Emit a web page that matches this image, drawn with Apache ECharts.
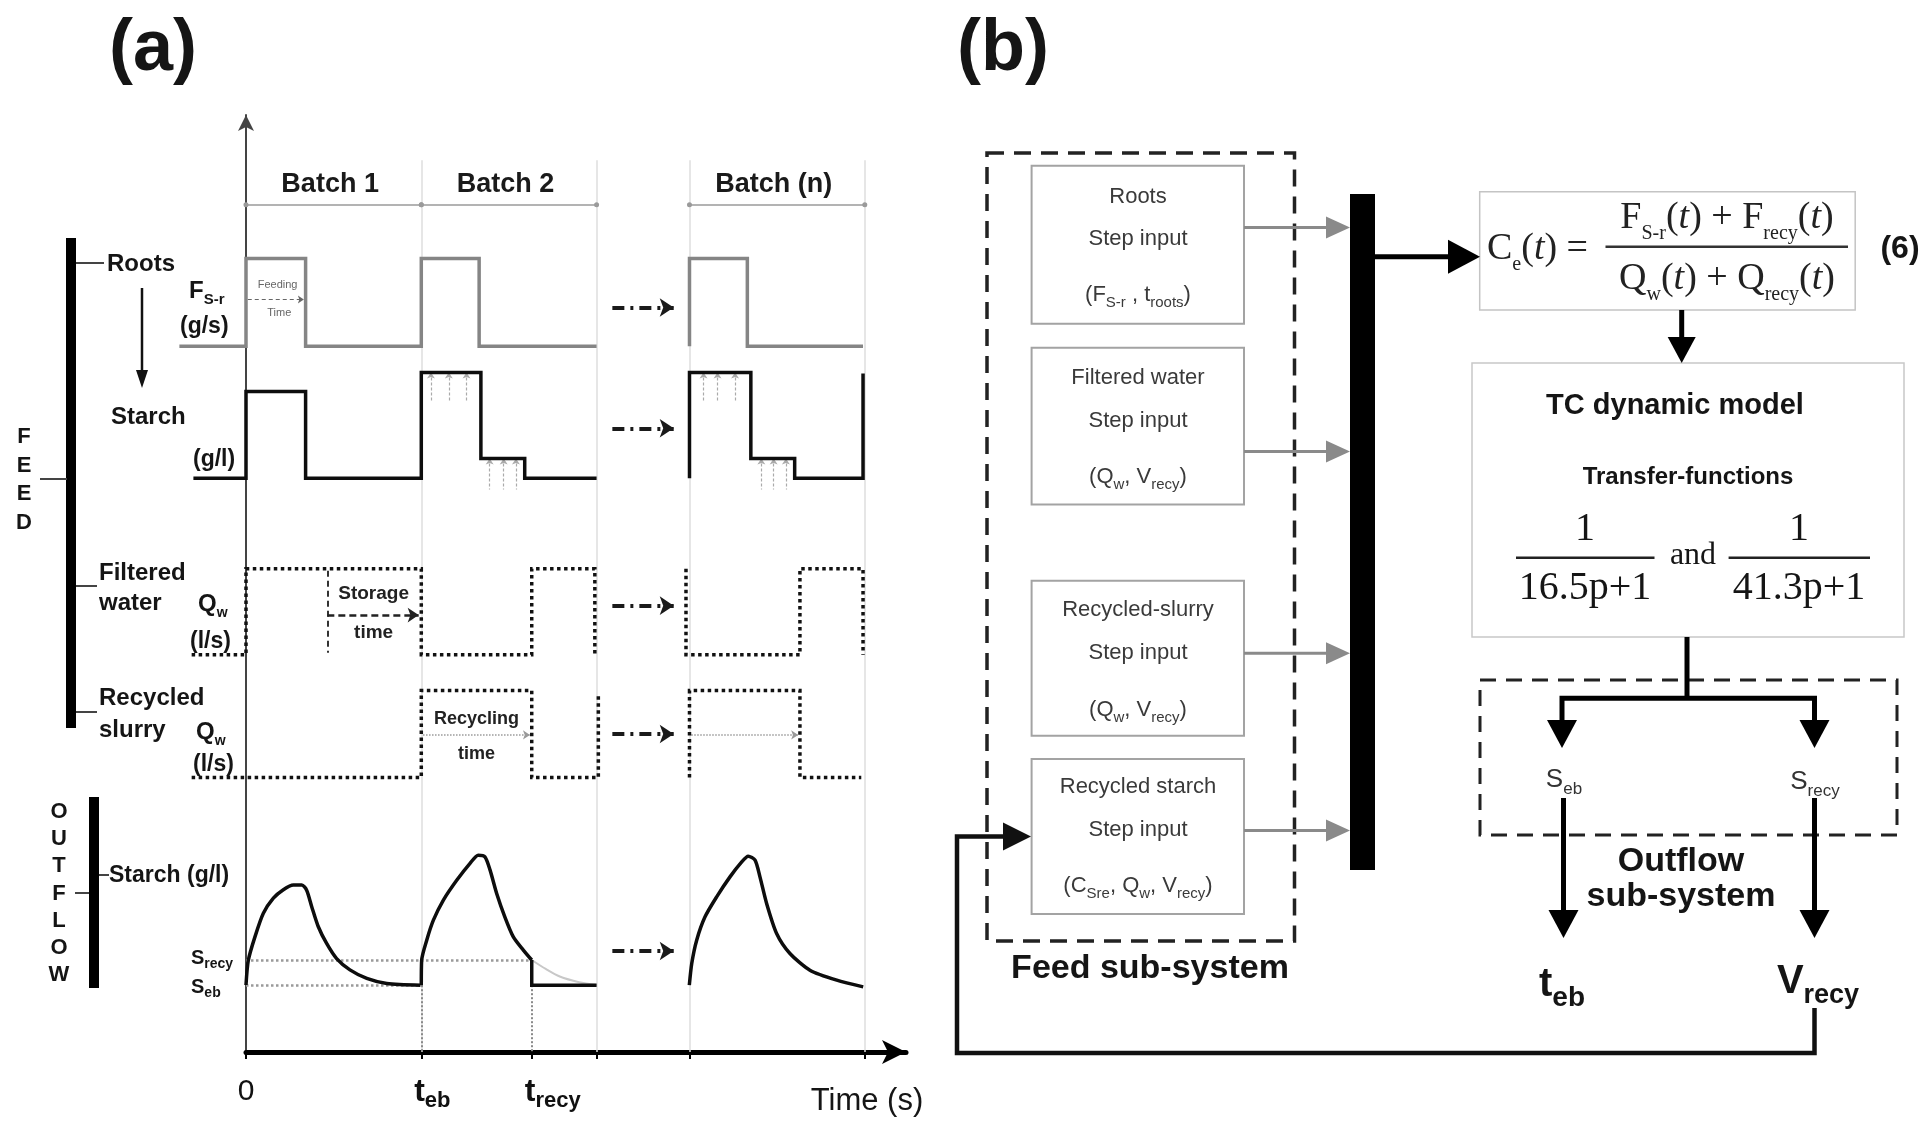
<!DOCTYPE html>
<html><head><meta charset="utf-8">
<script src="https://cdn.jsdelivr.net/npm/echarts@6/dist/echarts.min.js"></script>
<style>html,body{margin:0;padding:0;background:#fff}#c{width:1929px;height:1125px}</style>
</head><body><div id="c"></div>
<script>
// ---------------- data ----------------
const batchNames = ['Batch 1', 'Batch 2', 'Batch (n)'];
const batchStart = [0, 10, 25.3];
const batchEnd = [10, 20, 35.3];
const timeTickValues = [0, 10, 16.3, 20, 25.3, 35.3];
const timeLabelValues = [0, 10, 16.3];
const timeLabels = ['0', 't_eb', 't_recy'];

const rootsBatch12 = [[-3.8,74.8],[0,74.8],[0,84.1],[3.4,84.1],[3.4,74.8],[10,74.8],[10,84.1],[13.3,84.1],[13.3,74.8],[20,74.8]];
const rootsBatchN = [[25.3,74.8],[25.3,84.1],[28.6,84.1],[28.6,74.8],[35.2,74.8]];
const starchFeed12 = [[-3,60.8],[0,60.8],[0,70.0],[3.4,70.0],[3.4,60.8],[10,60.8],[10,72.0],[13.4,72.0],[13.4,62.9],[15.9,62.9],[15.9,60.8],[20,60.8]];
const starchFeedN = [[25.3,60.8],[25.3,72.0],[28.8,72.0],[28.8,62.9],[31.3,62.9],[31.3,60.8],[35.2,60.8],[35.2,71.9]];
const waterFeed12 = [[-3.1,42.1],[0,42.1],[0,51.2],[10,51.2],[10,42.1],[16.3,42.1],[16.3,51.2],[19.9,51.2],[19.9,42.1]];
const waterFeedN = [[25.1,51.2],[25.1,42.1],[31.6,42.1],[31.6,51.2],[35.2,51.2],[35.2,42.1]];
const slurryFeed12 = [[-3.1,29.1],[10,29.1],[10,38.3],[16.3,38.3],[16.3,29.1],[20.1,29.1],[20.1,38.0]];
const slurryFeedN = [[25.3,29.1],[25.3,38.3],[31.6,38.3],[31.6,29.1],[35.1,29.1]];
const outflowB1 = [[0,7.1],[0.13,9.7],[0.51,12.2],[0.99,14.7],[1.56,16.3],[2.13,17.2],[2.7,17.7],[3.18,17.7],[3.46,17.15],[3.75,15.4],[4.12,13.3],[4.6,11.5],[5.17,9.9],[5.93,8.7],[6.89,7.8],[8.03,7.26],[9.95,7.08]];
const outflowB2 = [[10,7.08],[10.02,9.7],[10.31,11.85],[10.69,13.97],[11.26,16.1],[12.02,18.2],[12.78,20.0],[13.25,20.86],[13.63,20.68],[13.92,19.3],[14.3,16.8],[14.77,14.3],[15.25,12.2],[15.82,10.8],[16.3,9.75]];
const outflowB2Cut = [[16.3,9.75],[16.3,7.08],[20,7.08]];
const outflowB2Natural = [[16.3,9.75],[17.1,8.8],[17.9,8.0],[19,7.4],[20,7.1]];
const outflowBN = [[25.29,7.08],[25.43,9.4],[25.71,11.85],[26.18,14.3],[26.85,16.44],[27.61,18.56],[28.28,20.15],[28.65,20.75],[29.04,20.33],[29.32,18.56],[29.7,15.74],[30.27,12.56],[31.03,10.44],[32.17,8.67],[33.7,7.61],[35.21,6.9]];
const levelSrecy = 9.75;
const levelSeb = 7.08;
const starchTopMarks = [10.55, 11.57, 12.58, 26.1, 26.9, 27.9];
const starchStepMarks = [13.9, 14.7, 15.4, 29.4, 30.1, 30.8];

// ---------------- helpers ----------------
const SANS = '"Liberation Sans", Arial, sans-serif';
const SERIF = '"Liberation Serif", "Times New Roman", serif';
const G = [];
function rt(s){
  let out='', re=/(_|\*)\{([^}]*)\}/g, last=0, m;
  while((m=re.exec(s))){
    if(m.index>last) out+='{m|'+s.slice(last,m.index)+'}';
    out+='{'+(m[1]==='_'?'s':'i')+'|'+m[2]+'}';
    last=re.lastIndex;
  }
  if(last<s.length) out+='{m|'+s.slice(last)+'}';
  return out;
}
function richFor(f, fs, w, fam, c){
  const lh = Math.round(f*1.35);
  return {
    m:{fontSize:f,fontFamily:fam,fontWeight:w,fill:c,lineHeight:lh},
    i:{fontSize:f,fontFamily:fam,fontWeight:w,fontStyle:'italic',fill:c,lineHeight:lh},
    s:{fontSize:fs,fontFamily:fam,fontWeight:w,fill:c,verticalAlign:'bottom',lineHeight:fs}
  };
}
function txt(x,y,s,o){
  o = Object.assign({f:24,fs:null,w:'bold',fam:SANS,color:'#151515',align:'center'}, o||{});
  const fs = o.fs || Math.round(o.f*0.62);
  G.push({type:'text',x:x,y:y,z:20,silent:true,style:{text:rt(s),rich:richFor(o.f,fs,o.w,o.fam,o.color),align:o.align,verticalAlign:'middle',fill:o.color,font:o.w+' '+o.f+'px '+o.fam}});
}
function ln(x1,y1,x2,y2,w,c,dash){G.push({type:'line',z:15,silent:true,shape:{x1,y1,x2,y2},style:{stroke:c||'#111',lineWidth:w||2,lineDash:dash||null}});}
function pl(points,w,c,dash){G.push({type:'polyline',z:15,silent:true,shape:{points},style:{stroke:c||'#111',lineWidth:w||2,lineDash:dash||null,fill:null,lineJoin:'miter'}});}
function rc(x,y,w,h,lw,c,dash,fill){G.push({type:'rect',z:12,silent:true,shape:{x,y,width:w,height:h},style:{stroke:c,lineWidth:lw,lineDash:dash||null,fill:fill||'transparent'}});}
function head(tx,ty,dir,len,half,c){
  let p;
  if(dir==='r') p=[[tx,ty],[tx-len,ty-half],[tx-len,ty+half]];
  else if(dir==='l') p=[[tx,ty],[tx+len,ty-half],[tx+len,ty+half]];
  else if(dir==='d') p=[[tx,ty],[tx-half,ty-len],[tx+half,ty-len]];
  else p=[[tx,ty],[tx-half,ty+len],[tx+half,ty+len]];
  G.push({type:'polygon',z:16,silent:true,shape:{points:p},style:{fill:c||'#111'}});
}

// ---------------- panel (a) left labels ----------------
txt(153,50,'(a)',{f:72});
txt(1003,50,'(b)',{f:72});
rc(66,238,10,490,0,'#000',null,'#000');
ln(76,263,104,263,2,'#444');
txt(107,264,'Roots',{align:'left'});
ln(142,288,142,372,2.5,'#111'); head(142,388,'d',18,6,'#111');
txt(111,417,'Starch',{align:'left'});
txt(189,291,'F_{S-r}',{align:'left',fs:15});
txt(180,327,'(g/s)',{align:'left',f:23});
txt(193,460,'(g/l)',{align:'left',f:23});
ln(40,479,67,479,2,'#444');
['F','E','E','D'].forEach((ch,i)=>txt(24,437+i*28.7,ch,{f:22}));
ln(76,586,97,586,2,'#444');
txt(99,573,'Filtered',{align:'left'});
txt(99,603,'water',{align:'left'});
txt(198,604,'Q_{w}',{align:'left',fs:14});
txt(190,642,'(l/s)',{align:'left',f:23});
ln(76,712,97,712,2,'#444');
txt(99,698,'Recycled',{align:'left'});
txt(99,730,'slurry',{align:'left'});
txt(196,732,'Q_{w}',{align:'left',fs:14});
txt(193,765,'(l/s)',{align:'left',f:23});
rc(89,797,10,191,0,'#000',null,'#000');
['O','U','T','F','L','O','W'].forEach((ch,i)=>txt(59,812+i*27.2,ch,{f:22}));
ln(75,893,89,893,2,'#444');
ln(99,875,109,875,2,'#444');
txt(109,876,'Starch (g/l)',{align:'left',f:23});
txt(191,958,'S_{recy}',{align:'left',f:20,fs:14});
txt(191,987,'S_{eb}',{align:'left',f:20,fs:14});
txt(867,1101,'Time (s)',{f:31,w:'normal'});

// ---------------- panel (b) ----------------
rc(987,153,307.5,788,3.5,'#222',[17,10]);
const boxTops=[165.7,347.7,580.7,759], boxH=[158,156.7,155,155];
boxTops.forEach((t,i)=>rc(1031.6,t,212.4,boxH[i],2,'#a3a3a3'));
const boxText=[['Roots','Step input','(F_{S-r} , t_{roots})'],['Filtered water','Step input','(Q_{w}, V_{recy})'],['Recycled-slurry','Step input','(Q_{w}, V_{recy})'],['Recycled starch','Step input','(C_{Sre}, Q_{w}, V_{recy})']];
const boxTextY=[[197,239,295],[378,421,477],[610,653,710],[787,830,886]];
boxText.forEach((ls,i)=>ls.forEach((s,j)=>txt(1138,boxTextY[i][j],s,{f:22,fs:15,w:'normal',color:'#3a3a3a'})));
[227.6,451.5,653.2,830.4].forEach(y=>{ln(1244,y,1330,y,3,'#8a8a8a');head(1350,y,'r',24,11,'#8a8a8a');});
rc(1350,194,25,676,0,'#000',null,'#000');
ln(1375,256.7,1452,256.7,5,'#000'); head(1480,256.7,'r',32,17,'#000');
rc(1479.7,191.7,375.5,118.3,1.5,'#c4c4c4');
txt(1487,249,'C_{e}(*{t}) =',{align:'left',f:38,fs:20,w:'normal',fam:SERIF,color:'#222'});
ln(1605.5,246.7,1848,246.7,2.5,'#333');
txt(1727,218,'F_{S-r}(*{t}) + F_{recy}(*{t})',{f:38,fs:20,w:'normal',fam:SERIF,color:'#222'});
txt(1727,279,'Q_{w}(*{t}) + Q_{recy}(*{t})',{f:38,fs:20,w:'normal',fam:SERIF,color:'#222'});
txt(1900,249,'(6)',{f:32});
ln(1681.7,310,1681.7,340,5,'#000'); head(1681.7,363,'d',26,14,'#000');
rc(1472,363,432,274,1.5,'#c8c8c8');
txt(1675,406,'TC dynamic model',{f:29});
txt(1688,477,'Transfer-functions',{f:24});
txt(1585,529,'1',{f:40,w:'normal',fam:SERIF});
ln(1516,557.7,1654.5,557.7,2.5,'#222');
txt(1585,588,'16.5p+1',{f:40,w:'normal',fam:SERIF});
txt(1693,556,'and',{f:32,w:'normal',fam:SERIF});
txt(1799,529,'1',{f:40,w:'normal',fam:SERIF});
ln(1728.6,557.7,1870,557.7,2.5,'#222');
txt(1799,588,'41.3p+1',{f:40,w:'normal',fam:SERIF});
ln(1687,637,1687,698,5,'#000');
pl([[1562,725],[1562,698.3],[1814.5,698.3],[1814.5,725]],5,'#000');
head(1562,748,'d',28,15,'#000'); head(1814.5,748,'d',28,15,'#000');
rc(1480,680,417,155,3,'#222',[16,10]);
txt(1564,780,'S_{eb}',{f:26,fs:17,w:'normal',color:'#333'});
txt(1815,782,'S_{recy}',{f:26,fs:17,w:'normal',color:'#333'});
ln(1563.5,798,1563.5,915,5,'#000'); head(1563.5,938,'d',28,15,'#000');
ln(1814.5,798,1814.5,915,5,'#000'); head(1814.5,938,'d',28,15,'#000');
txt(1681,862,'Outflow',{f:34});
txt(1681,897,'sub-system',{f:34});
txt(1562,985,'t_{eb}',{f:40,fs:28});
txt(1818,982,'V_{recy}',{f:40,fs:27});
txt(1150,969,'Feed sub-system',{f:34});
pl([[1814.5,1008],[1814.5,1053],[957,1053],[957,836.5],[1005,836.5]],4.5,'#111');
head(1031,836.5,'r',28,14,'#111');

// ---------------- chart series (panel a) ----------------
function wave(data,color,type,width,smooth,z){
  return {type:'line',xAxisIndex:1,yAxisIndex:1,data:data,symbol:'none',showSymbol:false,smooth:smooth||false,
    lineStyle:{color:color,width:width||3.5,type:type||'solid',cap:'butt',join:'miter'},silent:true,animation:false,z:z||5};
}
function segs(list,symbol,size,style,z){
  return {type:'lines',coordinateSystem:'cartesian2d',xAxisIndex:1,yAxisIndex:1,polyline:false,
    symbol:symbol,symbolSize:size,lineStyle:Object.assign({opacity:1,curveness:0},style),
    data:list.map(c=>({coords:c})),silent:true,animation:false,z:z||3};
}
const series = [
  segs(batchEnd.map(x=>[[x,94.5],[x,0]]).concat([[[batchStart[2],94.5],[batchStart[2],0]]]),['none','none'],1,{color:'#dedede',width:1.5},1),
  segs(batchNames.map((n,i)=>[[batchStart[i],89.8],[batchEnd[i],89.8]]),['circle','circle'],5,{color:'#9a9a9a',width:1.5},2),
  segs([[[0,levelSrecy],[16.3,levelSrecy]],[[0,levelSeb],[9.8,levelSeb]]],['none','none'],1,{color:'#9a9a9a',width:2.5,type:'dotted'},2),
  segs([[[10,levelSeb],[10,0]],[[16.3,levelSeb],[16.3,0]]],['none','none'],1,{color:'#8a8a8a',width:2,type:'dotted'},2),
  segs([78.9,66.1,47.3,33.7,10.7].map(y=>[[20.9,y],[24.4,y]]),['none','arrow'],14,{color:'#1a1a1a',width:4,type:[12,6,3,6]},4),
  segs([[[0.1,79.75],[3.3,79.75]]],['none','arrow'],6,{color:'#666',width:1.2,type:[4,3]},4),
  segs([[[4.64,51.0],[4.64,42.3]]],['none','none'],1,{color:'#333',width:2,type:[6,4]},4),
  segs([[[4.64,46.3],[9.85,46.3]]],['none','arrow'],11,{color:'#222',width:2.5,type:[7,4]},4),
  segs([[[10.1,33.6],[16.2,33.6]],[[25.4,33.6],[31.5,33.6]]],['none','arrow'],7,{color:'#999',width:1.5,type:'dotted'},4),
  segs(starchTopMarks.map(x=>[[x,72.0],[x,69.0]]).concat(starchStepMarks.map(x=>[[x,62.9],[x,59.6]])),['arrow','none'],6,{color:'#aaa',width:1.2,type:[3,2]},4),
  wave(rootsBatch12,'#858585','solid',3.5),
  wave(rootsBatchN,'#858585','solid',3.5),
  wave(starchFeed12,'#0d0d0d','solid',3.5),
  wave(starchFeedN,'#0d0d0d','solid',3.5),
  wave(waterFeed12,'#111','dotted',3.5),
  wave(waterFeedN,'#111','dotted',3.5),
  wave(slurryFeed12,'#111','dotted',3.5),
  wave(slurryFeedN,'#111','dotted',3.5),
  wave(outflowB2Natural,'#c8c8c8','solid',2,0.3,4),
  wave(outflowB1,'#0d0d0d','solid',3.5,0.25),
  wave(outflowB2,'#0d0d0d','solid',3.5,0.25),
  wave(outflowB2Cut,'#0d0d0d','solid',3.5),
  wave(outflowBN,'#0d0d0d','solid',3.5,0.25)
];

const option = {
  backgroundColor:'#ffffff',
  animation:false,
  grid:[
    {left:246,top:115,width:660,height:937},
    {left:175.88,top:115,width:730.1,height:937}
  ],
  xAxis:[
    {gridIndex:0,type:'value',min:0,max:37.65,
      axisLine:{show:true,symbol:['none','arrow'],symbolSize:[18,24],lineStyle:{color:'#000',width:5}},
      axisTick:{show:true,customValues:timeTickValues,length:7,lineStyle:{color:'#000',width:2}},
      splitLine:{show:false},
      axisLabel:{show:true,customValues:timeLabelValues,align:'center',margin:20,
        formatter:function(v){
          const i=timeLabelValues.findIndex(t=>Math.abs(t-v)<1e-6);
          const s=i>=0?timeLabels[i]:'';
          if(s.indexOf('_')<0) return '{n|'+s+'}';
          const p=s.split('_'); return '{'+(i===1?'t1':'t2')+'|'+p[0]+'}{s|'+p[1]+'}';
        },
        rich:{
          n:{fontSize:30,fontFamily:SANS,color:'#111',lineHeight:40},
          t1:{fontSize:32,fontWeight:'bold',fontFamily:SANS,color:'#111',lineHeight:40,padding:[0,0,0,22]},
          t2:{fontSize:32,fontWeight:'bold',fontFamily:SANS,color:'#111',lineHeight:40,padding:[0,0,0,42]},
          s:{fontSize:22,fontWeight:'bold',fontFamily:SANS,color:'#111',verticalAlign:'bottom',lineHeight:24}
        }}},
    {gridIndex:1,type:'value',min:-4,max:37.65,show:false}
  ],
  yAxis:[
    {gridIndex:0,type:'value',min:0,max:99.3,
      axisLine:{show:true,symbol:['none','arrow'],symbolSize:[12,16],lineStyle:{color:'#444',width:2}},
      axisTick:{show:false},axisLabel:{show:false},splitLine:{show:false}},
    {gridIndex:1,type:'value',min:0,max:99.3,show:false}
  ],
  series:series
};
const chart = echarts.init(document.getElementById('c'), null, {renderer:'canvas'});
chart.setOption(option);

// in-plot texts, placed through the data grid's own scales
const inPlotTexts = batchNames.map((n,i)=>({v:[(batchStart[i]+batchEnd[i])/2-0.2,91.9],s:n,o:{f:27,color:'#1a1a1a'}})).concat([
  {v:[1.8,81.3],s:'Feeding',o:{f:11,w:'normal',color:'#666'}},
  {v:[1.9,78.3],s:'Time',o:{f:11,w:'normal',color:'#666'}},
  {v:[7.28,48.6],s:'Storage',o:{f:19,color:'#222'}},
  {v:[7.28,44.4],s:'time',o:{f:19,color:'#222'}},
  {v:[13.15,35.3],s:'Recycling',o:{f:18,color:'#222'}},
  {v:[13.15,31.6],s:'time',o:{f:18,color:'#222'}}
]);
inPlotTexts.forEach(t=>{
  const p = chart.convertToPixel({gridIndex:1}, t.v);
  if(p) txt(p[0],p[1],t.s,t.o);
});
chart.setOption({graphic:{elements:G}});
</script>
</body></html>
